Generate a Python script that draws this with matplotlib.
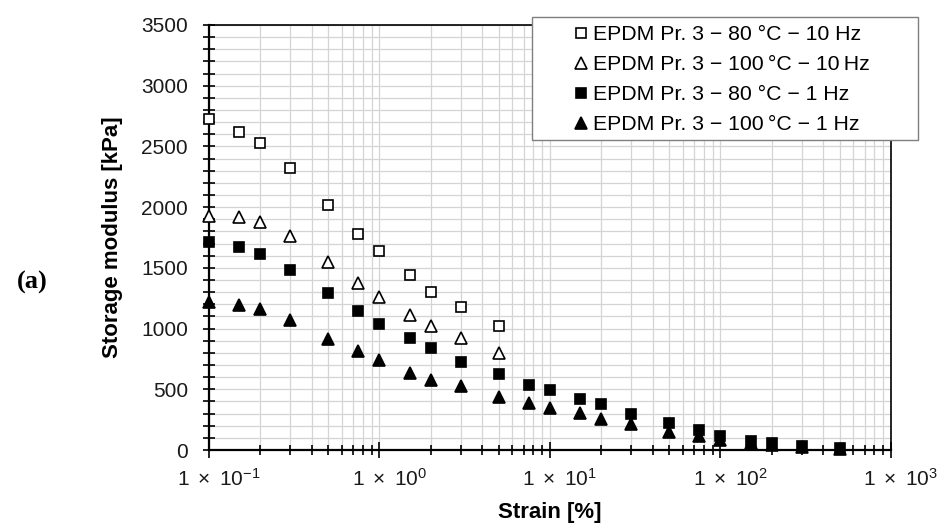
import numpy as np
import matplotlib
matplotlib.use('Agg')
import matplotlib.pyplot as plt
from matplotlib.patches import Rectangle
from matplotlib.transforms import ScaledTranslation
from matplotlib.ticker import FixedLocator, NullFormatter, MultipleLocator

plt.rcParams['font.family'] = ['Liberation Sans', 'DejaVu Sans']
plt.rcParams['mathtext.fontset'] = 'custom'
plt.rcParams['mathtext.rm'] = 'Liberation Sans'
plt.rcParams['mathtext.it'] = 'Liberation Sans'

# strain [%]
strain = [0.1, 0.15, 0.2, 0.3, 0.5, 0.75, 1, 1.5, 2, 3, 5, 7.5, 10, 15, 20, 30,
          50, 75, 100, 150, 200, 300, 500]

# storage modulus [kPa]
g_80_10 = [2725, 2620, 2530, 2325, 2015, 1780, 1635, 1445, 1305, 1175, 1025]
g_100_10 = [1930, 1920, 1880, 1760, 1550, 1378, 1260, 1112, 1021, 920, 800]
g_80_1 = [1716, 1674, 1614, 1482, 1293, 1145, 1035, 922, 836, 727, 626, 538,
          491, 420, 376, 299, 225, 165, 115, 74, 55, 36, 14]
g_100_1 = [1216, 1197, 1158, 1068, 917, 815, 741, 637, 578, 527, 439, 387,
           343, 302, 253, 214, 151, 115, 85, 55, 40, 25, 10]

labels = ['EPDM Pr. 3 \u2212 80 \u00b0C \u2212 10 Hz',
          'EPDM Pr. 3 \u2212 100\u2009\u00b0C \u2212 10\u2009Hz',
          'EPDM Pr. 3 \u2212 80 \u00b0C \u2212 1 Hz',
          'EPDM Pr. 3 \u2212 100\u2009\u00b0C \u2212 1 Hz']

xticks = [0.1, 1, 10, 100, 1000]
xticklabels = [r'$1\ \times\ 10^{-1}$', r'$1\ \times\ 10^{0}$', r'$1\ \times\ 10^{1}$',
               r'$1\ \times\ 10^{2}$', r'$1\ \times\ 10^{3}$']

W, H = 945, 527
fig = plt.figure(figsize=(W / 100, H / 100), dpi=100)
ax = fig.add_axes([209 / W, 1 - 450 / H, (891 - 209) / W, (450 - 25) / H])

n1 = len(g_80_10)
h1, = ax.plot(strain[:n1], g_80_10, 's', ms=7.2, mfc='white', mec='black', mew=1.2,
              clip_on=False, zorder=5)
h2, = ax.plot(strain[:n1], g_100_10, '^', ms=8, mfc='white', mec='black', mew=1.2,
              clip_on=False, zorder=5)
h4, = ax.plot(strain, g_100_1, '^', ms=8, mfc='black', mec='black', mew=1.2,
              clip_on=False, zorder=5)
h3, = ax.plot(strain, g_80_1, 's', ms=7.2, mfc='black', mec='black', mew=1.2,
              clip_on=False, zorder=6)

ax.set_xscale('log')
ax.set_xlim(0.1, 1000)
ax.set_ylim(0, 3500)

ax.xaxis.set_major_locator(FixedLocator(xticks))
ax.set_xticklabels(xticklabels)
minors = [m * 10.0 ** e for e in range(-1, 3) for m in range(2, 10)]
ax.xaxis.set_minor_locator(FixedLocator(minors))
ax.xaxis.set_minor_formatter(NullFormatter())
ax.yaxis.set_major_locator(MultipleLocator(500))
ax.yaxis.set_minor_locator(MultipleLocator(100))

ax.grid(True, which='both', color='#d4d4d4', lw=0.9, zorder=0)
ax.set_axisbelow(True)

ax.tick_params(axis='both', which='both', direction='inout', colors='black',
               labelcolor='#1a1a1a', labelsize=15, width=1.2)
ax.tick_params(axis='y', which='both', length=8.6, pad=10.8)
ax.tick_params(axis='x', which='major', length=11, pad=7.5)
ax.tick_params(axis='x', which='minor', length=7.2)

for s in ax.spines.values():
    s.set_color('black')
    s.set_linewidth(1.2)
ax.spines['left'].set_linewidth(1.6)
ax.spines['bottom'].set_linewidth(1.6)

ax.set_ylabel('Storage modulus [kPa]', fontsize=16, fontweight='bold')
ax.set_xlabel('Strain [%]', fontsize=16, fontweight='bold')
ax.yaxis.set_label_coords((123 - 209) / 682, 0.5)
ax.xaxis.set_label_coords(0.5, (450 - 502) / 425)

off = ScaledTranslation(10 / 100, 0, fig.dpi_scale_trans)
for lab in ax.get_xticklabels():
    lab.set_transform(lab.get_transform() + off)

# legend box
rect = Rectangle((532 / W, 1 - 140 / H), (918 - 532) / W, (140 - 17) / H,
                 transform=fig.transFigure, facecolor='white', edgecolor='#7f7f7f',
                 lw=1, zorder=4)
fig.add_artist(rect)
leg = fig.legend([h1, h2, h3, h4], labels, loc='upper left',
                 bbox_to_anchor=(575 / W, 1 - 25 / H), frameon=False, fontsize=15.3,
                 borderpad=0, borderaxespad=0, handlelength=0.6, handletextpad=0.25,
                 labelspacing=0.52)
leg.set_zorder(5)

fig.text(32 / W, 1 - 282 / H, '(a)', fontsize=19, fontweight='bold',
         family='Liberation Serif', ha='center', va='center')

fig.savefig('out.png', dpi=100)
